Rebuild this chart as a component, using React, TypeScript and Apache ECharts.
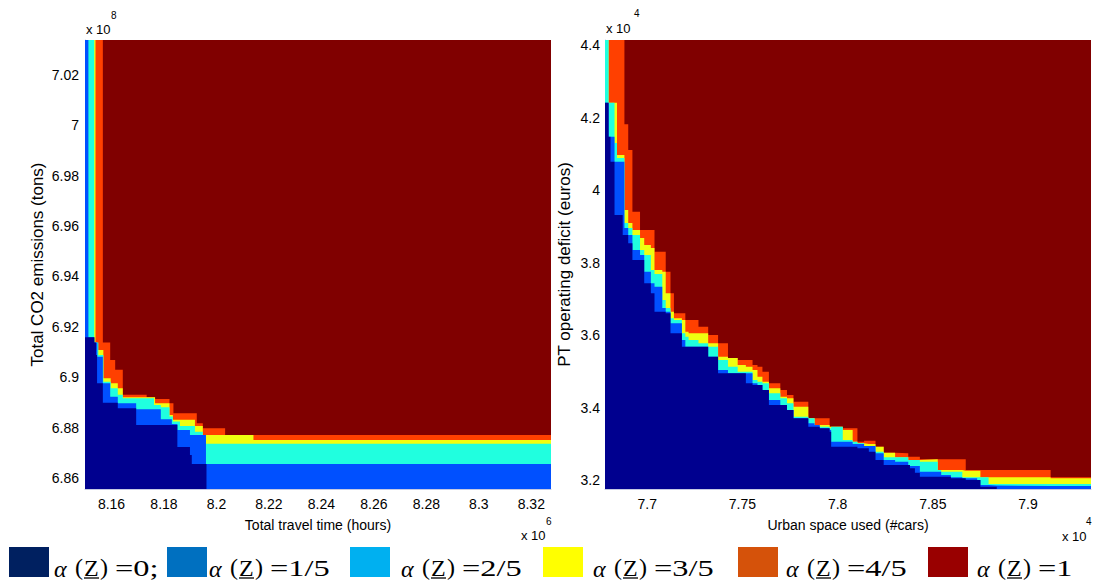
import React, { useEffect, useRef } from 'react';
import * as echarts from 'echarts';

const NARROW = '"Liberation Sans Narrow", "Liberation Sans", Arial, sans-serif';
const SANS = '"Liberation Sans", Arial, sans-serif';
const SERIF = '"Liberation Serif", "Times New Roman", serif';

// level colours in the plots (jet) and in the legend
const plotColors = ['#00008F', '#0050FF', '#20FFDF', '#EFFF10', '#FF4000', '#800000'];
const legendColors = ['#002060', '#0070C0', '#00B0F0', '#FFFF00', '#D5520A', '#990000'];
const legendValues = ['=0;', '=1/5', '=2/5', '=3/5', '=4/5', '=1'];

// ---------- left panel: Total travel time (x 1e6 h) vs Total CO2 (x 1e8 t) ----------
const leftXName = 'Total travel time (hours)';
const leftYName = 'Total CO2 emissions (tons)';
const leftXRange = [8.1499, 8.3275];
const leftYRange = [6.8558, 7.0337];
// upper boundary of each level region: [x, y] (step holds until next x)
const navyL = [[8.149, 6.9159], [8.1535, 6.9138], [8.1541, 6.9089], [8.1545, 6.8977], [8.1567, 6.89], [8.1624, 6.8878], [8.1694, 6.8812], [8.1851, 6.8724], [8.1899, 6.8693], [8.1906, 6.8657], [8.1962, 6.85], [8.33, 6.85]];
const blueL = [[8.149, 7.04], [8.1512, 6.9159], [8.1534, 6.9138], [8.1546, 6.9082], [8.1567, 6.8977], [8.1595, 6.8924], [8.1624, 6.8898], [8.1694, 6.8874], [8.1788, 6.8834], [8.183, 6.8816], [8.1851, 6.8792], [8.1899, 6.8772], [8.196, 6.8657], [8.33, 6.8657]];
const cyanL = [[8.149, 7.04], [8.1534, 6.9138], [8.155, 6.9089], [8.1569, 6.8983], [8.1597, 6.8957], [8.1624, 6.8931], [8.1643, 6.8918], [8.1762, 6.8891], [8.1788, 6.8882], [8.1821, 6.8845], [8.1834, 6.8825], [8.1861, 6.8808], [8.1918, 6.8785], [8.1948, 6.8772], [8.196, 6.8737], [8.33, 6.8737]];
const yellowL = [[8.149, 7.04], [8.1539, 6.9138], [8.1546, 6.9109], [8.1569, 6.8997], [8.1597, 6.8977], [8.1624, 6.8957], [8.1643, 6.8922], [8.1766, 6.8898], [8.1821, 6.8851], [8.1834, 6.8832], [8.1918, 6.8808], [8.1948, 6.8772], [8.2141, 6.8752], [8.33, 6.8752]];
const orangeL = [[8.149, 7.04], [8.1567, 6.9138], [8.1595, 6.9069], [8.1614, 6.903], [8.1643, 6.8931], [8.1734, 6.8922], [8.1766, 6.8915], [8.1821, 6.8898], [8.1836, 6.8858], [8.1925, 6.8819], [8.1948, 6.8799], [8.2033, 6.8772], [8.33, 6.8772]];

// ---------- right panel: Urban space used (x 1e4 cars) vs PT operating deficit (x 1e4 euros) ----------
const rightXName = 'Urban space used (#cars)';
const rightYName = 'PT operating deficit (euros)';
const rightXRange = [7.6778, 7.9331];
const rightYRange = [3.1752, 4.4138];
const xR = [7.67, 7.6797, 7.6807, 7.6828, 7.6841, 7.6871, 7.688, 7.69, 7.6922, 7.6962, 7.6984, 7.7019, 7.7038, 7.7079, 7.7097, 7.7122, 7.714, 7.7182, 7.72, 7.7217, 7.7269, 7.732, 7.7372, 7.7424, 7.7475, 7.7518, 7.7553, 7.7579, 7.7605, 7.7639, 7.7699, 7.7734, 7.7768, 7.7846, 7.7879, 7.7906, 7.7958, 7.7966, 7.8027, 7.8079, 7.8104, 7.8139, 7.8164, 7.8199, 7.8242, 7.8302, 7.8371, 7.838, 7.8406, 7.8432, 7.8526, 7.8544, 7.8595, 7.8655, 7.8673, 7.8733, 7.875, 7.8793, 7.8836, 7.9119, 7.95];
const navyR = [4.2408, 4.147, 4.0781, 3.931, 3.931, 3.8759, 3.8759, 3.853, 3.8069, 3.8069, 3.7426, 3.715, 3.6643, 3.6643, 3.6599, 3.6047, 3.6047, 3.5677, 3.5677, 3.5677, 3.5677, 3.5401, 3.4943, 3.4943, 3.4943, 3.4668, 3.4621, 3.4621, 3.4483, 3.4069, 3.4069, 3.3931, 3.3702, 3.347, 3.347, 3.3426, 3.3332, 3.2919, 3.2919, 3.2919, 3.2874, 3.2874, 3.2781, 3.2552, 3.2414, 3.2414, 3.2414, 3.2323, 3.2201, 3.2091, 3.2091, 3.2091, 3.2047, 3.2047, 3.2, 3.2, 3.1815, 3.1815, 3.17, 3.17, 3.17];
const blueR = [4.2408, 4.147, 4.147, 4.0781, 4.0781, 4.0781, 3.8952, 3.8759, 3.8345, 3.8207, 3.7746, 3.7426, 3.7332, 3.6745, 3.6643, 3.6323, 3.6323, 3.5862, 3.5677, 3.5677, 3.5677, 3.5401, 3.5034, 3.4943, 3.4943, 3.4943, 3.4668, 3.4621, 3.4483, 3.4207, 3.4069, 3.3931, 3.3702, 3.3564, 3.3517, 3.3426, 3.3379, 3.3057, 3.3057, 3.2993, 3.2993, 3.2938, 3.2938, 3.2737, 3.2552, 3.2505, 3.2414, 3.2386, 3.2386, 3.2229, 3.2229, 3.2138, 3.2074, 3.2047, 3.2047, 3.2, 3.1862, 3.1848, 3.1834, 3.1834, 3.1834];
const cyanR = [4.45, 4.2408, 4.2408, 4.1297, 4.0883, 4.0883, 3.909, 3.8952, 3.8759, 3.8345, 3.8207, 3.7793, 3.7683, 3.6966, 3.6745, 3.6461, 3.6414, 3.6047, 3.5953, 3.5862, 3.5771, 3.5677, 3.531, 3.5126, 3.4988, 3.4988, 3.4759, 3.4712, 3.4668, 3.4392, 3.4254, 3.4116, 3.3746, 3.3702, 3.3517, 3.347, 3.3426, 3.347, 3.3103, 3.3057, 3.3012, 3.2938, 3.2938, 3.2781, 3.2626, 3.2626, 3.2552, 3.2552, 3.2552, 3.2505, 3.2276, 3.2229, 3.2229, 3.2074, 3.2074, 3.2074, 3.2074, 3.189, 3.189, 3.189, 3.189];
const yellowR = [4.45, 4.2408, 4.2408, 4.2408, 4.0966, 4.0966, 3.9448, 3.909, 3.8897, 3.8676, 3.8483, 3.84, 3.7793, 3.7746, 3.715, 3.6643, 3.6461, 3.6414, 3.6091, 3.6047, 3.6047, 3.5771, 3.5401, 3.5366, 3.5172, 3.5126, 3.5034, 3.485, 3.4712, 3.453, 3.4298, 3.4254, 3.4022, 3.3702, 3.3517, 3.3517, 3.347, 3.347, 3.3379, 3.3057, 3.3012, 3.2993, 3.2993, 3.2919, 3.2753, 3.2626, 3.2552, 3.2552, 3.2552, 3.2571, 3.2276, 3.2276, 3.2276, 3.2257, 3.2257, 3.2257, 3.2074, 3.2074, 3.2074, 3.2047, 3.2047];
const orangeR = [4.45, 4.45, 4.45, 4.45, 4.45, 4.45, 4.1812, 4.1103, 3.9401, 3.8897, 3.8897, 3.8897, 3.8298, 3.8298, 3.7746, 3.715, 3.6599, 3.6599, 3.6414, 3.6414, 3.6229, 3.6, 3.5771, 3.5366, 3.531, 3.531, 3.5172, 3.5126, 3.4988, 3.4668, 3.4483, 3.4345, 3.416, 3.3702, 3.3702, 3.3702, 3.347, 3.347, 3.3426, 3.3426, 3.3057, 3.3084, 3.3084, 3.2919, 3.2753, 3.2737, 3.2643, 3.2643, 3.2643, 3.2571, 3.2571, 3.2571, 3.2571, 3.2571, 3.2276, 3.2276, 3.2276, 3.2276, 3.2276, 3.2074, 3.2074];

const zipR = (ys: number[]) => xR.map((x, i) => [x, ys[i]]);

const tickFmt = (step: number) => (v: number) => {
  const k = v / step;
  return Math.abs(k - Math.round(k)) < 1e-6 ? String(Number(v.toFixed(2))) : '';
};

const area = (data: number[][], color: string, idx: number, z: number) => ({
  type: 'line',
  xAxisIndex: idx,
  yAxisIndex: idx,
  data,
  step: 'end',
  symbol: 'none',
  showSymbol: false,
  silent: true,
  clip: true,
  z,
  lineStyle: { width: 0, color },
  itemStyle: { color },
  areaStyle: { color, opacity: 1, origin: 'start' },
});

const axisLine = { show: true, lineStyle: { color: '#C5C9E3', width: 1 } };
const tickLabel = (step: number, margin: number) => ({
  fontFamily: NARROW,
  fontSize: 14,
  color: '#000',
  margin,
  formatter: tickFmt(step),
});
const hName = { fontFamily: NARROW, fontSize: 14, color: '#000' };
const vName = { fontFamily: SANS, fontSize: 17, color: '#000' };

const txt = (text: string, x: number, y: number, font: any, extra: any = {}) => ({
  type: 'text',
  x,
  y,
  silent: true,
  ...extra,
  style: { text, fill: '#000', verticalAlign: 'middle', align: 'left', ...font },
});

const legendSquareX = [9, 167, 350, 543, 738, 928];
const legendTextX = [54, 209, 401, 593, 786, 977];

function legendGraphics() {
  const out: any[] = [];
  const f = { fontFamily: SERIF, fontSize: 24 };
  legendValues.forEach((val, i) => {
    const t = legendTextX[i];
    out.push({ type: 'rect', silent: true, shape: { x: legendSquareX[i], y: 547, width: 40, height: 30 }, style: { fill: legendColors[i] } });
    out.push(txt('α', t, 569, { ...f, fontStyle: 'italic' }));
    out.push(txt('(', t + 21, 567, f));
    out.push(txt('Z', t + 30, 568, f));
    out.push({ type: 'line', silent: true, shape: { x1: t + 30, y1: 578, x2: t + 45, y2: 578 }, style: { stroke: '#000', lineWidth: 1.3 } });
    out.push(txt(')', t + 46, 567, f));
    out.push(txt(val, t + 61, 568, f, { scaleX: 1.35 }));
  });
  return out;
}

function exponentGraphics() {
  const big = { fontFamily: NARROW, fontSize: 13 };
  const small = { fontFamily: NARROW, fontSize: 10 };
  return [
    txt('x 10', 86, 29, big), txt('8', 111, 15, small),
    txt('x 10', 606, 28, big), txt('4', 634, 13, small),
    txt('x 10', 521, 535, big), txt('6', 546, 521, small),
    txt('x 10', 1062, 536, big), txt('4', 1086, 521, small),
  ];
}

const option: any = {
  animation: false,
  backgroundColor: '#ffffff',
  grid: [
    { left: 85, top: 40, width: 466, height: 449, show: true, backgroundColor: plotColors[5], borderWidth: 0 },
    { left: 605, top: 40, width: 494, height: 449, show: true, backgroundColor: plotColors[5], borderWidth: 0 },
  ],
  xAxis: [
    {
      type: 'value', gridIndex: 0, min: leftXRange[0], max: leftXRange[1], splitNumber: 9,
      name: leftXName, nameLocation: 'middle', nameGap: 29, nameTextStyle: hName,
      axisLine, axisTick: { show: false }, splitLine: { show: false },
      axisLabel: tickLabel(0.02, 8),
    },
    {
      type: 'value', gridIndex: 1, min: rightXRange[0], max: rightXRange[1], splitNumber: 5,
      name: rightXName, nameLocation: 'middle', nameGap: 29, nameTextStyle: hName,
      axisLine, axisTick: { show: false }, splitLine: { show: false },
      axisLabel: tickLabel(0.05, 8),
    },
  ],
  yAxis: [
    {
      type: 'value', gridIndex: 0, min: leftYRange[0], max: leftYRange[1], splitNumber: 9,
      name: leftYName, nameLocation: 'middle', nameGap: 39, nameRotate: 90, nameTextStyle: vName,
      axisLine, axisTick: { show: false }, splitLine: { show: false },
      axisLabel: tickLabel(0.02, 6),
    },
    {
      type: 'value', gridIndex: 1, min: rightYRange[0], max: rightYRange[1], splitNumber: 6,
      name: rightYName, nameLocation: 'middle', nameGap: 32, nameRotate: 90, nameTextStyle: vName,
      axisLine, axisTick: { show: false }, splitLine: { show: false },
      axisLabel: tickLabel(0.2, 5),
    },
  ],
  series: [
    area(orangeL, plotColors[4], 0, 2),
    area(yellowL, plotColors[3], 0, 3),
    area(cyanL, plotColors[2], 0, 4),
    area(blueL, plotColors[1], 0, 5),
    area(navyL, plotColors[0], 0, 6),
    area(zipR(orangeR), plotColors[4], 1, 2),
    area(zipR(yellowR), plotColors[3], 1, 3),
    area(zipR(cyanR), plotColors[2], 1, 4),
    area(zipR(blueR), plotColors[1], 1, 5),
    area(zipR(navyR), plotColors[0], 1, 6),
  ],
  graphic: [...exponentGraphics(), ...legendGraphics()],
};

export default function App() {
  const ref = useRef<HTMLDivElement>(null);
  useEffect(() => {
    document.body.style.margin = '0';
    const chart = echarts.init(ref.current as HTMLDivElement, null, { renderer: 'svg' });
    chart.setOption(option);
    return () => chart.dispose();
  }, []);
  return <div ref={ref} style={{ width: 1094, height: 586, background: '#fff', overflow: 'hidden' }} />;
}
